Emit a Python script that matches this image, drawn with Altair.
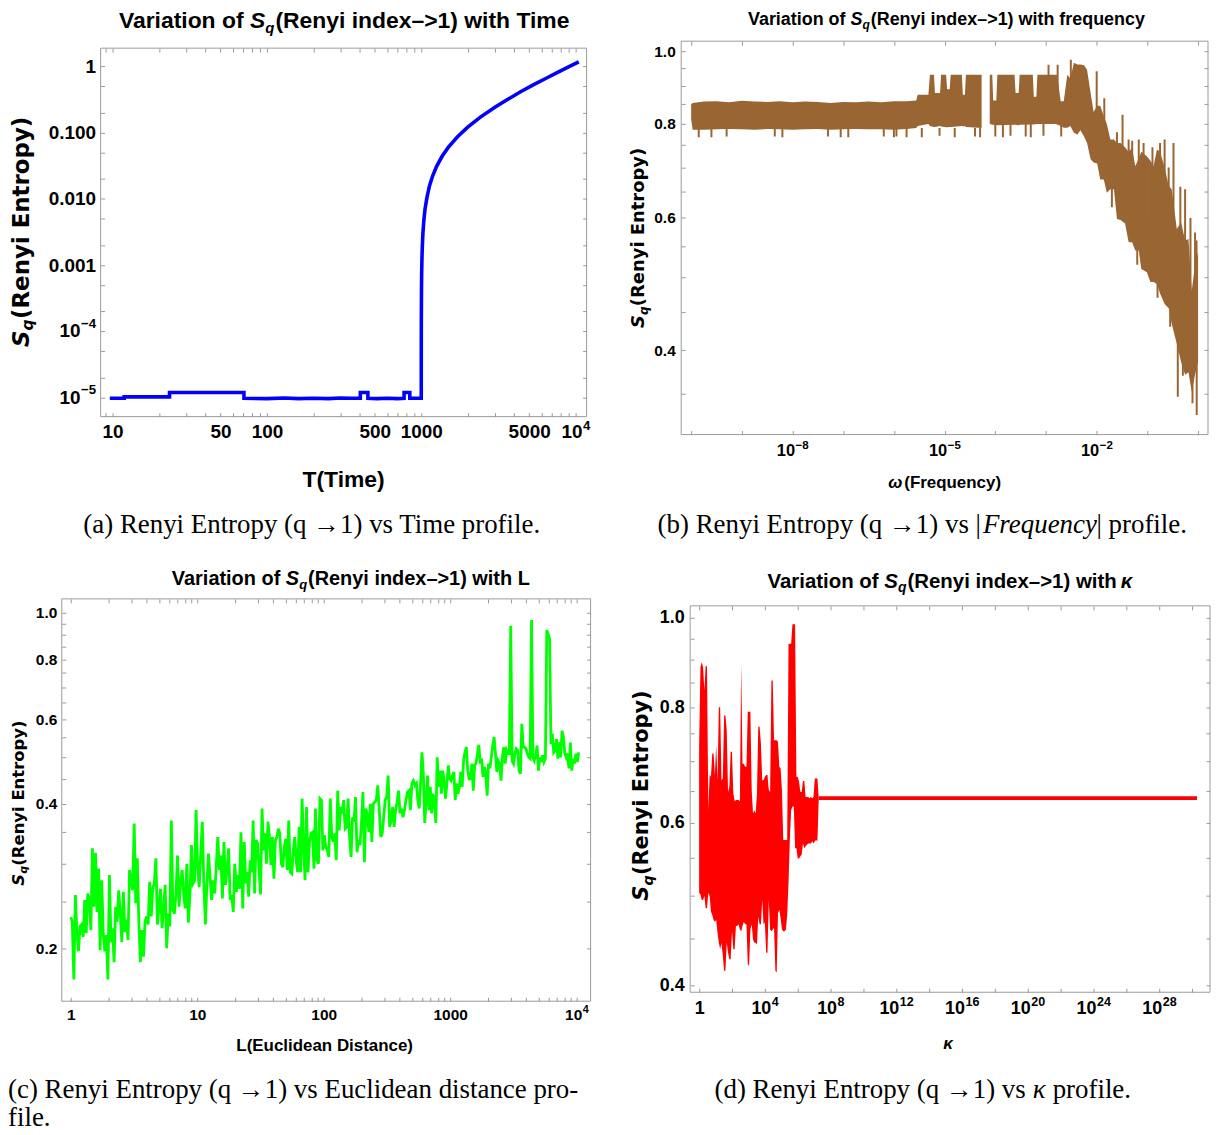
import altair as alt
import pandas as pd
import numpy as np

SANS = "Liberation Sans, Arial, sans-serif"
WIDE = "DejaVu Sans, Verdana, sans-serif"
SERIF = "Liberation Serif, Times New Roman, serif"
FRAME = "#9a9a9a"
TICK = 4

# ---------------- (a) Renyi entropy vs time ----------------
A_T = [9.6, 11.9, 11.9, 23.4, 23.4, 71, 71, 100, 130, 160, 200, 250, 300, 350, 403, 403,
       451, 451, 520, 600, 700, 774, 774, 843, 843, 1000, 1000.3, 1001, 1003, 1006, 1010,
       1016, 1025, 1040, 1058, 1089, 1130, 1186, 1260, 1368, 1500, 1718, 2000, 2416, 3000,
       3596, 4400, 5350, 6400, 7530, 9000, 10480]
A_S = [0.98e-5, 0.98e-5, 1.03e-5, 1.03e-5, 1.2e-5, 1.2e-5, 0.98e-5, 0.97e-5, 0.99e-5, 0.97e-5,
       0.98e-5, 0.97e-5, 0.99e-5, 0.98e-5, 0.98e-5, 1.2e-5, 1.2e-5, 0.98e-5, 0.97e-5, 0.98e-5,
       0.97e-5, 0.98e-5, 1.2e-5, 1.2e-5, 0.98e-5, 0.98e-5, 4e-5, 1.3e-4, 3.8e-4, 7.5e-4, 1.2e-3,
       1.9e-3, 3e-3, 4.8e-3, 7e-3, 0.0105, 0.0156, 0.0222, 0.031, 0.044, 0.06, 0.086, 0.12, 0.17,
       0.24, 0.31, 0.41, 0.526, 0.65, 0.79, 0.97, 1.16]

# ---------------- (b) Renyi entropy vs frequency (band of a dense oscillation) ----------------
B_E = [-10.00, -9.97, -9.75, -9.50, -9.25, -9.00, -8.75, -8.50, -8.25, -8.00, -7.75, -7.50,
       -7.25, -7.00, -6.75, -6.50, -6.25, -6.00, -5.75, -5.56, -5.53, -5.32, -5.29, -5.21,
       -5.19, -5.09, -5.07, -4.97, -4.95, -4.90, -4.88, -4.66, -4.64, -4.60, -4.58, -4.27,
       -4.11, -4.06, -4.04, -3.98, -3.96, -3.62, -3.60, -3.54, -3.52, -3.26, -3.24, -3.19,
       -3.17, -2.96, -2.82, -2.78, -2.71, -2.65, -2.58, -2.52, -2.45, -2.38, -2.32, -2.25,
       -2.19, -2.12, -2.06, -1.99, -1.93, -1.86, -1.80, -1.73, -1.66, -1.60, -1.53, -1.44,
       -1.37, -1.30, -1.24, -1.17, -1.12, -1.01, -0.94, -0.88, -0.81, -0.75, -0.66, -0.58,
       -0.52, -0.42, -0.335, -0.256, -0.19, -0.125, -0.06, 0.0]
B_HI = [0.850, 0.853, 0.857, 0.858, 0.855, 0.859, 0.857, 0.856, 0.858, 0.855, 0.857, 0.856,
        0.853, 0.856, 0.855, 0.857, 0.855, 0.858, 0.858, 0.860, 0.875, 0.875, 0.930, 0.930,
        0.880, 0.880, 0.930, 0.930, 0.890, 0.890, 0.930, 0.930, 0.875, 0.875, 0.930, 0.930,
        0.930, 0.930, 0.860, 0.860, 0.930, 0.930, 0.880, 0.880, 0.930, 0.930, 0.870, 0.870,
        0.930, 0.930, 0.930, 0.930, 0.858, 0.858, 0.930, 0.920, 0.965, 0.960, 0.960, 0.958,
        0.945, 0.880, 0.830, 0.846, 0.846, 0.820, 0.800, 0.763, 0.763, 0.755, 0.755, 0.745,
        0.735, 0.744, 0.703, 0.720, 0.735, 0.725, 0.715, 0.703, 0.740, 0.735, 0.700, 0.662,
        0.655, 0.580, 0.592, 0.560, 0.5625, 0.480, 0.520, 0.540]
B_LO = [0.812, 0.786, 0.786, 0.787, 0.788, 0.787, 0.786, 0.788, 0.787, 0.786, 0.787, 0.788,
        0.786, 0.787, 0.788, 0.787, 0.787, 0.786, 0.788, 0.790, 0.795, 0.800, 0.795, 0.793,
        0.793, 0.795, 0.794, 0.792, 0.792, 0.793, 0.793, 0.795, 0.794, 0.795, 0.793, 0.790,
        0.800, 0.798, 0.798, 0.797, 0.797, 0.798, 0.798, 0.797, 0.798, 0.799, 0.799, 0.800,
        0.800, 0.800, 0.800, 0.799, 0.795, 0.791, 0.791, 0.795, 0.779, 0.775, 0.785, 0.770,
        0.755, 0.718, 0.711, 0.709, 0.675, 0.675, 0.648, 0.655, 0.655, 0.598, 0.596, 0.590,
        0.557, 0.557, 0.543, 0.543, 0.513, 0.508, 0.493, 0.493, 0.490, 0.476, 0.461, 0.455,
        0.434, 0.408, 0.386, 0.371, 0.374, 0.352, 0.371, 0.386]
B_SEG = [1] * 36 + [2] * 56
B_SPK_E = [-9.85, -9.6, -9.3, -8.35, -8.2, -7.3, -7.05, -6.9, -6.2, -6.0, -5.95, -5.75,
           -5.45, -5.1, -4.8, -4.4, -4.3, -4.0, -3.85, -3.7, -3.4, -3.3, -3.05, -2.7,
           -2.95, -2.77, -2.51, -2.0, -1.85, -1.49, -1.37, -1.17, -1.075, -0.66, -0.485,
           -0.256, -0.06, -0.03, -0.40, -0.11, -0.027,
           -1.93, -1.6, -1.3, -0.9, -0.75, -0.58, -0.35, -0.15,
           -1.7, -1.2, -0.8, -0.55, -0.3]
B_SPK_LO = [0.768, 0.768, 0.770, 0.770, 0.768, 0.770, 0.768, 0.768, 0.770, 0.768, 0.770, 0.768,
            0.768, 0.772, 0.768, 0.770, 0.768, 0.770, 0.768, 0.772, 0.770, 0.768, 0.772, 0.770,
            0.85, 0.85, 0.85, 0.75, 0.72, 0.65, 0.65, 0.62, 0.60, 0.55, 0.50,
            0.45, 0.45, 0.45, 0.347, 0.34, 0.328,
            0.70, 0.62, 0.58, 0.52, 0.50, 0.48, 0.42, 0.40,
            0.62, 0.52, 0.47, 0.43, 0.37]
B_SPK_HI = [0.79, 0.79, 0.79, 0.79, 0.79, 0.79, 0.79, 0.79, 0.79, 0.79, 0.79, 0.79,
            0.79, 0.79, 0.79, 0.79, 0.79, 0.80, 0.80, 0.80, 0.80, 0.80, 0.80, 0.80,
            0.959, 0.959, 0.974, 0.940, 0.866, 0.823, 0.763, 0.763, 0.755, 0.763, 0.755,
            0.655, 0.574, 0.56, 0.45, 0.42, 0.42,
            0.83, 0.78, 0.76, 0.745, 0.755, 0.70, 0.66, 0.60,
            0.70, 0.60, 0.55, 0.50, 0.45]

# ---------------- (c) Renyi entropy vs Euclidean distance ----------------
C_S1 = [0.232, 0.227, 0.172, 0.258, 0.215, 0.197, 0.222, 0.224, 0.211, 0.252,
        0.215, 0.260, 0.252, 0.218, 0.323, 0.244, 0.316, 0.238, 0.293, 0.198,
        0.277, 0.215, 0.197, 0.213, 0.172, 0.284, 0.206, 0.220, 0.187, 0.244,
        0.227, 0.264, 0.236, 0.206, 0.262, 0.216, 0.229, 0.208, 0.291, 0.277,
        0.264, 0.364, 0.248, 0.308, 0.227, 0.187, 0.218, 0.192, 0.227, 0.233,
        0.224, 0.275, 0.233, 0.266, 0.273, 0.308, 0.224, 0.244, 0.266, 0.220,
        0.240, 0.271, 0.200, 0.236, 0.222, 0.369, 0.240, 0.236, 0.260, 0.312,
        0.244, 0.277, 0.291, 0.258, 0.242, 0.300, 0.226, 0.258, 0.328, 0.273,
        0.277, 0.388, 0.295, 0.268, 0.315, 0.367, 0.271, 0.224, 0.273, 0.315,
        0.282, 0.252, 0.277, 0.260, 0.295, 0.341, 0.291, 0.312, 0.254, 0.333,
        0.271, 0.291, 0.323, 0.252, 0.258, 0.238, 0.300, 0.262, 0.284, 0.266,
        0.349]
C_S2 = [0.242, 0.333, 0.273, 0.288, 0.256, 0.305, 0.288, 0.369, 0.260, 0.336,
        0.331, 0.291, 0.259, 0.391, 0.320, 0.347, 0.300, 0.367, 0.341, 0.298,
        0.341, 0.279, 0.336, 0.341, 0.355, 0.347, 0.300, 0.295, 0.325, 0.338,
        0.291, 0.369, 0.288, 0.286, 0.317, 0.341, 0.305, 0.288, 0.358, 0.288,
        0.410, 0.325, 0.277, 0.394, 0.288, 0.333, 0.347, 0.349, 0.293, 0.391,
        0.305, 0.300, 0.410, 0.407, 0.320, 0.344, 0.325, 0.320, 0.310, 0.410,
        0.341, 0.333, 0.347, 0.305, 0.426, 0.352, 0.394, 0.382, 0.407, 0.355,
        0.358, 0.410, 0.341, 0.310, 0.375, 0.367, 0.413, 0.317, 0.336, 0.328,
        0.364, 0.423, 0.302, 0.391, 0.378, 0.349, 0.400, 0.333, 0.400, 0.403,
        0.407, 0.437, 0.388, 0.341, 0.347, 0.375, 0.407, 0.413, 0.458, 0.358,
        0.369, 0.394, 0.358, 0.388, 0.403, 0.426, 0.382, 0.391, 0.375, 0.388,
        0.407, 0.423, 0.426, 0.388, 0.441, 0.447]
C_S3 = [0.437, 0.441, 0.407, 0.391, 0.441, 0.512, 0.462, 0.365, 0.407, 0.458,
        0.388, 0.434, 0.382, 0.420, 0.403, 0.365, 0.500, 0.434, 0.469, 0.420,
        0.469, 0.447, 0.410, 0.441, 0.481, 0.451, 0.447, 0.458, 0.466, 0.407,
        0.441, 0.420, 0.434, 0.466, 0.434, 0.492, 0.512, 0.525, 0.469, 0.451,
        0.451, 0.485, 0.426, 0.481, 0.485, 0.509, 0.531, 0.485, 0.497, 0.455,
        0.478, 0.462, 0.416, 0.485, 0.474, 0.500, 0.529, 0.551, 0.509, 0.466,
        0.492, 0.485, 0.447, 0.500, 0.525, 0.485, 0.517, 0.509, 0.509, 0.940,
        0.492, 0.485, 0.509, 0.521, 0.517, 0.469, 0.462, 0.587, 0.525, 0.525,
        0.521, 0.509, 0.500, 0.497, 0.967, 0.500, 0.492, 0.505, 0.529, 0.469,
        0.500, 0.489, 0.505, 0.489, 0.497, 0.921, 0.903, 0.884, 0.533, 0.560,
        0.512, 0.517, 0.546, 0.497, 0.537, 0.500, 0.568, 0.551, 0.509, 0.500,
        0.509, 0.474, 0.537, 0.469, 0.497, 0.485, 0.509, 0.489, 0.512]
# log10(L) span covered by each of the three read-off stretches
C_SPANS = [(0.0, 1.346), (1.36, 2.709), (2.722, 4.016)]

# ---------------- (d) Renyi entropy vs kappa ----------------
D_STEP = 0.08  # log10(kappa) spacing of the read-off envelope
D_HI = [0.725, 0.884, 0.895, 0.884, 0.834, 0.888, 0.885, 0.619, 0.676, 0.673, 0.713, 0.713,
        0.676, 0.728, 0.667, 0.800, 0.800, 0.667, 0.670, 0.784, 0.784, 0.756, 0.648, 0.656,
        0.716, 0.716, 0.646, 0.633, 0.635, 0.635, 0.635, 0.633, 0.891, 0.695, 0.695, 0.690,
        0.690, 0.791, 0.791, 0.791, 0.651, 0.614, 0.619, 0.614, 0.646, 0.762, 0.762, 0.731,
        0.667, 0.667, 0.673, 0.676, 0.676, 0.651, 0.648, 0.855, 0.855, 0.737, 0.737, 0.737,
        0.734, 0.690, 0.687, 0.651, 0.575, 0.575, 0.575, 0.575, 0.937, 0.937, 0.937, 0.984,
        0.984, 0.984, 0.673, 0.673, 0.665, 0.648, 0.648, 0.666, 0.666, 0.640, 0.640, 0.640,
        0.638, 0.640, 0.638, 0.640, 0.670, 0.670, 0.670, 0.638]
D_LO = [0.504, 0.502, 0.495, 0.495, 0.500, 0.485, 0.485, 0.504, 0.500, 0.481, 0.477, 0.471,
        0.469, 0.471, 0.456, 0.445, 0.438, 0.445, 0.431, 0.415, 0.415, 0.445, 0.434, 0.427,
        0.427, 0.458, 0.438, 0.438, 0.464, 0.464, 0.466, 0.460, 0.458, 0.464, 0.469, 0.466,
        0.466, 0.422, 0.420, 0.460, 0.466, 0.449, 0.445, 0.445, 0.443, 0.475, 0.466, 0.466,
        0.495, 0.466, 0.468, 0.434, 0.434, 0.495, 0.460, 0.458, 0.460, 0.462, 0.415, 0.413,
        0.479, 0.483, 0.473, 0.460, 0.458, 0.458, 0.460, 0.477, 0.516, 0.575, 0.619, 0.625,
        0.625, 0.563, 0.563, 0.549, 0.549, 0.552, 0.554, 0.570, 0.563, 0.566, 0.568, 0.570,
        0.570, 0.570, 0.573, 0.570, 0.573, 0.575, 0.573, 0.638]
D_FLAT_E = [7.28, 30.3]
D_FLAT_S = [0.638, 0.638]

# ---------------- ticks / labels ----------------
def decade_minors(lo, hi, mults):
    return [m * 10.0 ** p for p in range(lo, hi) for m in mults]

A_XT = [9.0] + decade_minors(1, 4, range(1, 10)) + [10000.0]
A_XL = {10: "10", 50: "50", 100: "100", 500: "500", 1000: "1000", 5000: "5000"}
A_XE = [(1e4, "4")]
A_YT = decade_minors(-5, 0, [1, 2, 5]) + [1.0]
A_YL = {1.0: "1", 0.1: "0.100", 0.01: "0.010", 0.001: "0.001"}
A_YE = [(1e-4, "−4"), (1e-5, "−5")]
B_XT = [10.0 ** p for p in range(-10, 1)]
B_XL = {}
B_XE = [(1e-8, "−8"), (1e-5, "−5"), (1e-2, "−2")]
B_YT = [round(0.05 * k, 2) for k in range(7, 21)]
B_YL = {0.4: "0.4", 0.6: "0.6", 0.8: "0.8", 1.0: "1.0"}
C_XT = decade_minors(0, 4, range(1, 10)) + [10000.0]
C_XL = {1: "1", 10: "10", 100: "100", 1000: "1000"}
C_XE = [(1e4, "4")]
C_YT = [round(0.05 * k, 2) for k in range(4, 21)]
C_YL = {0.2: "0.2", 0.4: "0.4", 0.6: "0.6", 0.8: "0.8", 1.0: "1.0"}
D_XT = [10.0 ** p for p in range(0, 31, 2)]
D_XL = {1: "1"}
D_XE = [(1e4, "4"), (1e8, "8"), (1e12, "12"), (1e16, "16"), (1e20, "20"), (1e24, "24"),
        (1e28, "28")]
D_YT = [round(0.05 * k, 2) for k in range(8, 21)]
D_YL = {0.4: "0.4", 0.6: "0.6", 0.8: "0.8", 1.0: "1.0"}

ONE = pd.DataFrame({"k": [0]})
CHW = {"−": 0.584}  # glyph widths (em) used to centre the power-of-ten labels; digits 0.556

# cell geometry: plot-frame offset (ox, oy), frame size (pw, ph), grid cell size (cw, ch)
GA = dict(ox=39, oy=7, pw=488, ph=370, cw=531, ch=395)
GB = dict(ox=0, oy=0, pw=529, ph=395, cw=531, ch=395)
GC = dict(ox=0, oy=0, pw=531, ph=404, cw=531, ch=404)
GD = dict(ox=9, oy=7, pw=522, ph=388, cw=531, ch=404)


def lab_expr(d):
    s = "''"
    for v, t in reversed(list(d.items())):
        s = f"abs(datum.value / {float(v)!r} - 1) < 1e-6 ? '{t}' : {s}"
    return s


def edge_gap(g, orient):
    return {"bottom": g["ch"] - g["oy"] - g["ph"], "top": g["oy"],
            "left": g["ox"], "right": g["cw"] - g["ox"] - g["pw"]}[orient]


def axis(g, orient, values, labels=None, size=16, pad=6):
    kw = dict(orient=orient, values=values, offset=-edge_gap(g, orient) - TICK, tickSize=TICK,
              tickColor=FRAME, tickWidth=1, domain=False, grid=False, title=None)
    if labels is None:
        kw["labels"] = False
    else:
        kw.update(labelExpr=lab_expr(labels), labelFont=SANS, labelFontSize=size,
                  labelFontWeight="bold", labelColor="black", labelPadding=pad,
                  labelOverlap=False, labelFlush=False)
    return alt.Axis(**kw)


def xscale(g, lo, hi):
    return alt.Scale(type="log", domain=[lo, hi], range=[g["ox"], g["ox"] + g["pw"]])


def yscale(g, lo, hi):
    return alt.Scale(type="log", domain=[lo, hi], range=[g["oy"] + g["ph"], g["oy"]])


def ew(e, size):
    return sum(CHW.get(c, 0.556) for c in e) * 0.7 * size


def pow_x(g, scale, items, size, pad):
    """10^n labels under the bottom axis, placed at their tick through the x scale."""
    out = []
    yb = g["oy"] + g["ph"] + pad + 0.8 * size
    for v, e in items:
        d = (1.112 * size - ew(e, size)) / 2
        df = pd.DataFrame({"v": [v]})
        common = dict(font=SANS, fontWeight="bold", color="black", baseline="alphabetic")
        out.append(alt.Chart(df).mark_text(text="10", fontSize=size, align="right", dx=d,
                                           **common).encode(
            x=alt.X("v:Q", scale=scale, axis=None), y=alt.value(yb)))
        out.append(alt.Chart(df).mark_text(text=e, fontSize=0.7 * size, align="left", dx=d + 0.5,
                                           dy=-0.42 * size, **common).encode(
            x=alt.X("v:Q", scale=scale, axis=None), y=alt.value(yb)))
    return out


def pow_y(g, scale, items, size, pad):
    """10^n labels left of the left axis, placed at their tick through the y scale."""
    out = []
    for v, e in items:
        xr = g["ox"] - pad - ew(e, size)
        df = pd.DataFrame({"v": [v]})
        common = dict(font=SANS, fontWeight="bold", color="black", baseline="middle")
        out.append(alt.Chart(df).mark_text(text="10", fontSize=size, align="right",
                                           **common).encode(
            x=alt.value(xr), y=alt.Y("v:Q", scale=scale, axis=None)))
        out.append(alt.Chart(df).mark_text(text=e, fontSize=0.7 * size, align="left", dx=0.5,
                                           dy=-0.4 * size, **common).encode(
            x=alt.value(xr), y=alt.Y("v:Q", scale=scale, axis=None)))
    return out


def txt(g, s, x, y, size, font=SANS, bold=True, italic=False, angle=0, align="left"):
    return alt.Chart(ONE).mark_text(
        text=s, font=font, fontSize=size, fontWeight="bold" if bold else "normal",
        fontStyle="italic" if italic else "normal", angle=angle, align=align,
        baseline="alphabetic", color="black").encode(
        x=alt.value(x + g["ox"]), y=alt.value(y + g["oy"]))


def cap(g, s, x, dy, align="left", italic=False):
    # caption baseline measured from the bottom of the frame
    return txt(g, s, x, g["ph"] + dy, 27, font=SERIF, bold=False, italic=italic, align=align)


def xt(g, s, x, dy, size, italic=False, align="center"):
    return txt(g, s, x, g["ph"] + dy, size, italic=italic, align=align)


def title_pieces(g, sl, base, size, rest, sub):
    ws = 0.667 * size
    wq = 0.611 * sub + 1
    return [txt(g, "Variation of", sl - 0.28 * size, base, size, align="right"),
            txt(g, "S", sl, base, size, italic=True),
            txt(g, "q", sl + ws, base + 0.2 * size, sub, italic=True),
            txt(g, rest, sl + ws + wq, base, size)]


def ytitle(g, xb, ys, size):
    ws = 0.72 * size
    wq = 0.5 * size
    return [txt(g, "S", xb, ys, size, font=WIDE, italic=True, angle=270),
            txt(g, "q", xb + 0.2 * size, ys - ws, 0.68 * size, font=WIDE, italic=True, angle=270),
            txt(g, "(Renyi Entropy)", xb, ys - ws - wq, size, font=WIDE, angle=270)]


def frame(g):
    return alt.Chart(ONE).mark_rect(filled=False, stroke=FRAME, strokeWidth=1).encode(
        x=alt.value(g["ox"]), x2=alt.value(g["ox"] + g["pw"]),
        y=alt.value(g["oy"]), y2=alt.value(g["oy"] + g["ph"]))


def assemble(g, layers):
    return alt.layer(*layers, frame(g)).resolve_axis(
        x="independent", y="independent").properties(width=g["cw"], height=g["ch"])


# ---------------- panel (a) ----------------
dfa = pd.DataFrame({"T": A_T, "S": A_S, "i": range(len(A_T))})
axs = xscale(GA, 8.37, 11780)
ays = yscale(GA, 5.19e-6, 1.862)
a_line = alt.Chart(dfa).mark_line(color="#0000ff", strokeWidth=3.6, clip=True).encode(
    x=alt.X("T:Q", scale=axs, axis=axis(GA, "bottom", A_XT, A_XL, 19, 6)),
    y=alt.Y("S:Q", scale=ays, axis=axis(GA, "left", A_YT, A_YL, 19, 5)),
    order="i:Q")
a_ax = alt.Chart(dfa).mark_point(opacity=0).encode(
    x=alt.X("T:Q", scale=axs, axis=axis(GA, "top", A_XT)),
    y=alt.Y("S:Q", scale=ays, axis=axis(GA, "right", A_YT)))
a_txt = (title_pieces(GA, 150, -20, 23, "(Renyi index–>1) with Time", 15)
         + ytitle(GA, -72, 300, 23)
         + pow_x(GA, axs, A_XE, 19, 6) + pow_y(GA, ays, A_YE, 19, 5)
         + [xt(GA, "T(Time)", 244, 71, 23),
            cap(GA, "(a) Renyi Entropy (q →1) vs Time profile.", 212, 117, align="center")])
PA = assemble(GA, [a_line, a_ax] + a_txt)

# ---------------- panel (b) ----------------
BROWN = "#996633"
dfb = pd.DataFrame({"w": 10.0 ** np.array(B_E), "hi": B_HI, "lo": B_LO, "seg": B_SEG})
dfbs = pd.DataFrame({"w": 10.0 ** np.array(B_SPK_E), "hi": B_SPK_HI, "lo": B_SPK_LO})
bxs = xscale(GB, 10 ** -10.196, 10 ** 0.196)
bys = yscale(GB, 0.309, 1.031)
b_area = alt.Chart(dfb).mark_area(color=BROWN, clip=True).encode(
    x=alt.X("w:Q", scale=bxs, axis=axis(GB, "bottom", B_XT, B_XL, 16.5, 8)),
    y=alt.Y("hi:Q", scale=bys, stack=None, axis=axis(GB, "left", B_YT, B_YL, 15.5, 6)),
    y2="lo:Q", detail="seg:N")
b_spk = alt.Chart(dfbs).mark_rule(color=BROWN, strokeWidth=2, clip=True).encode(
    x=alt.X("w:Q", scale=bxs, axis=None),
    y=alt.Y("hi:Q", scale=bys, axis=None), y2="lo:Q")
b_ax = alt.Chart(dfb).mark_point(opacity=0).encode(
    x=alt.X("w:Q", scale=bxs, axis=axis(GB, "top", B_XT)),
    y=alt.Y("hi:Q", scale=bys, axis=axis(GB, "right", B_YT)))
b_txt = (title_pieces(GB, 170, -16, 18, "(Renyi index–>1) with frequency", 12)
         + ytitle(GB, -37, 288, 18)
         + pow_x(GB, bxs, B_XE, 16.5, 8)
         + [xt(GB, "ω", 208, 54, 17, italic=True, align="left"),
            xt(GB, "(Frequency)", 224, 54, 17, align="left"),
            cap(GB, "(b) Renyi Entropy (q →1) vs |", 301, 99, align="right"),
            cap(GB, "Frequency", 303, 99, italic=True),
            cap(GB, "| profile.", 417, 99)])
PB = assemble(GB, [b_area, b_spk, b_ax] + b_txt)

# ---------------- panel (c) ----------------
c_e = np.concatenate([np.linspace(a, b, len(s)) for (a, b), s in
                      zip(C_SPANS, [C_S1, C_S2, C_S3])])
dfc = pd.DataFrame({"L": 10.0 ** c_e, "S": C_S1 + C_S2 + C_S3})
cxs = xscale(GC, 10 ** -0.0709, 10 ** 4.110)
cys = yscale(GC, 0.155, 1.07)
c_line = alt.Chart(dfc).mark_line(color="#00ff00", strokeWidth=2.8, clip=True).encode(
    x=alt.X("L:Q", scale=cxs, axis=axis(GC, "bottom", C_XT, C_XL, 15.5, 6)),
    y=alt.Y("S:Q", scale=cys, axis=axis(GC, "left", C_YT, C_YL, 15.5, 5)))
c_ax = alt.Chart(dfc).mark_point(opacity=0).encode(
    x=alt.X("L:Q", scale=cxs, axis=axis(GC, "top", C_XT)),
    y=alt.Y("S:Q", scale=cys, axis=axis(GC, "right", C_YT)))
c_txt = (title_pieces(GC, 225, -14, 20, "(Renyi index–>1) with L", 13)
         + ytitle(GC, -38, 288, 16.5)
         + pow_x(GC, cxs, C_XE, 15.5, 6)
         + [xt(GC, "L(Euclidean Distance)", 264, 50, 17),
            cap(GC, "(c) Renyi Entropy (q →1) vs Euclidean distance pro-", -54, 97),
            cap(GC, "file.", -54, 125)])
PC = assemble(GC, [c_line, c_ax] + c_txt)

# ---------------- panel (d) ----------------
RED = "#ff0000"
d_e = np.arange(len(D_HI)) * D_STEP
dfd = pd.DataFrame({"k": 10.0 ** d_e, "hi": D_HI, "lo": D_LO})
dff = pd.DataFrame({"k": 10.0 ** np.array(D_FLAT_E), "hi": D_FLAT_S})
dxs = xscale(GD, 10 ** -0.545, 10 ** 31.09)
dys = yscale(GD, 0.3934, 1.030)
d_area = alt.Chart(dfd).mark_area(color=RED, clip=True).encode(
    x=alt.X("k:Q", scale=dxs, axis=axis(GD, "bottom", D_XT, D_XL, 18, 7)),
    y=alt.Y("hi:Q", scale=dys, stack=None, axis=axis(GD, "left", D_YT, D_YL, 18, 6)),
    y2="lo:Q")
d_flat = alt.Chart(dff).mark_line(color=RED, strokeWidth=3.6, clip=True).encode(
    x=alt.X("k:Q", scale=dxs, axis=None),
    y=alt.Y("hi:Q", scale=dys, axis=None))
d_ax = alt.Chart(dfd).mark_point(opacity=0).encode(
    x=alt.X("k:Q", scale=dxs, axis=axis(GD, "top", D_XT)),
    y=alt.Y("hi:Q", scale=dys, axis=axis(GD, "right", D_YT)))
d_txt = (title_pieces(GD, 195, -18, 20.5, "(Renyi index–>1) with", 14)
         + [txt(GD, "κ", 444, -18, 20.5, italic=True, align="right")]
         + ytitle(GD, -42, 296, 21)
         + pow_x(GD, dxs, D_XE, 18, 7)
         + [xt(GD, "κ", 259, 57, 17, italic=True),
            cap(GD, "(d) Renyi Entropy (q →1) vs", 337, 106, align="right"),
            cap(GD, "κ", 344, 106, italic=True),
            cap(GD, "profile.", 364, 106)])
PD = assemble(GD, [d_area, d_flat, d_ax] + d_txt)

# ---------------- layout: one 2x2 grid, cells laid out by their own sizes ----------------
chart = alt.concat(PA, PB, PC, PD, columns=2, spacing={"row": 165, "column": 91},
                   bounds="flush", align="each").properties(
    padding=0, background="white").configure_view(stroke=None)

chart.save("out.html", embed_options={"renderer": "svg", "actions": False})
